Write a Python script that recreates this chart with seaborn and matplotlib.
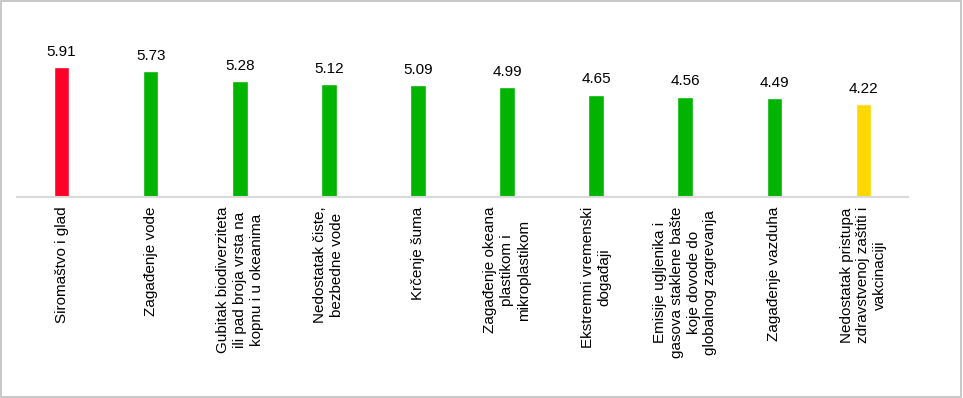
import matplotlib
matplotlib.use("Agg")
import matplotlib.pyplot as plt
import matplotlib.patches as mpatches
import seaborn as sns
import pandas as pd

categories = [
    "Siromaštvo i glad",
    "Zagađenje vode",
    "Gubitak biodiverziteta\nili pad broja vrsta na\nkopnu i u okeanima",
    "Nedostatak čiste,\nbezbedne vode",
    "Krčenje šuma",
    "Zagađenje okeana\nplastikom i\nmikroplastikom",
    "Ekstremni vremenski\ndogađaji",
    "Emisije ugljenika i\ngasova staklene bašte\nkoje dovode do\nglobalnog zagrevanja",
    "Zagađenje vazduha",
    "Nedostatak pristupa\nzdravstvenoj zaštiti i\nvakcinaciji",
]
values = [5.91, 5.73, 5.28, 5.12, 5.09, 4.99, 4.65, 4.56, 4.49, 4.22]
bar_colors = ["#FF0029"] + ["#00B400"] * 8 + ["#FFD800"]

sns.set_theme(style="white")
plt.rcParams["font.family"] = ["Liberation Sans", "DejaVu Sans"]

df = pd.DataFrame({"cat": categories, "val": values})

fig = plt.figure(figsize=(9.63, 3.98), dpi=100)
ax = fig.add_axes([17 / 963, 201 / 398, 891 / 963, 154 / 398])

sns.barplot(data=df, x="cat", y="val", hue="cat", palette=bar_colors,
            legend=False, width=0.175, saturation=1, ax=ax)

for c in ax.containers:
    ax.bar_label(c, fmt="%.2f", padding=6, fontsize=11, color="#000000")

ax.set_ylim(0, 7)
ax.set_xlim(-0.5, len(categories) - 0.5)
ax.set_xlabel("")
ax.set_ylabel("")
ax.set_yticks([])
ax.tick_params(axis="x", length=0, pad=7, labelsize=11, labelcolor="#000000")
for lbl in ax.get_xticklabels():
    lbl.set_rotation(90)
    lbl.set_ha("center")
    lbl.set_va("top")
    lbl.set_multialignment("center")
    lbl.set_linespacing(1.25)

for side in ["top", "left", "right"]:
    ax.spines[side].set_visible(False)
ax.spines["bottom"].set_color("#D9D9D9")
ax.spines["bottom"].set_linewidth(1.5)

border = mpatches.Rectangle((0.001, 0.003), 0.997, 0.994, transform=fig.transFigure,
                            fill=False, edgecolor="#BFBFBF", linewidth=1.2)
fig.patches.append(border)

fig.savefig("out.png", dpi=100)
